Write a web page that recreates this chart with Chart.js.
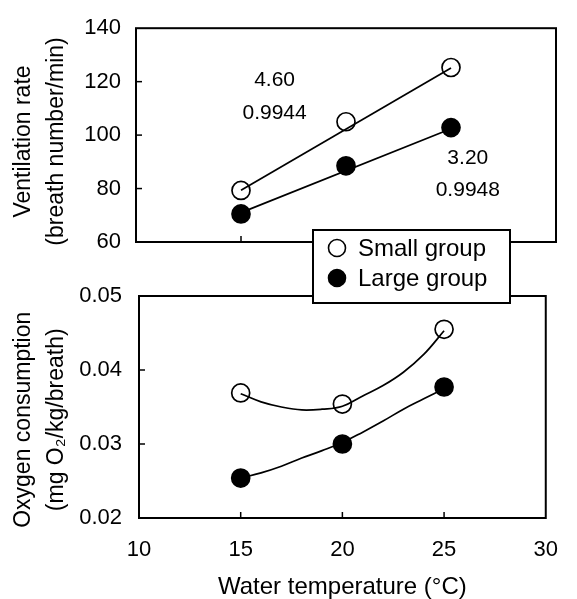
<!DOCTYPE html>
<html><head><meta charset="utf-8">
<script src="https://cdn.jsdelivr.net/npm/chart.js@4.4.1/dist/chart.umd.min.js"></script>
<style>
html,body{margin:0;padding:0;background:#fff;overflow:hidden;}
#wrap{position:relative;width:577px;height:599px;background:#fff;}
#c1wrap{position:absolute;left:0;top:0;width:577px;height:310px;z-index:2;}
#c2wrap{position:absolute;left:0;top:260px;width:577px;height:339px;z-index:1;}
canvas{display:block;}
</style></head><body>
<div id="wrap">
  <div id="c2wrap"><canvas id="c2" width="577" height="339"></canvas></div>
  <div id="c1wrap"><canvas id="c1" width="577" height="310"></canvas></div>
</div>
<script>
// ---- data ----
const temperatures = [15, 20, 25];
const ventilationSmall = [79.3, 105.0, 125.3];
const ventilationLarge = [70.5, 88.5, 102.8];
const ventFitTemps = [15, 25];
const ventFitSmall = [79.4, 125.1];
const ventFitLarge = [71.0, 102.4];
const oxygenSmall = [0.0369, 0.0354, 0.0455];
const oxygenLarge = [0.0254, 0.0300, 0.0377];
const curveTemps = [15, 16, 17, 18, 19, 20, 21, 22, 23, 24, 25];
const oxygenCurveSmall = [0.0368, 0.0357, 0.0350, 0.0346, 0.0347, 0.0351, 0.0365, 0.0379, 0.0397, 0.0421, 0.0453];
const oxygenCurveLarge = [0.0254, 0.0261, 0.0270, 0.0281, 0.0291, 0.0302, 0.0316, 0.0331, 0.0347, 0.0361, 0.0375];
const seriesNames = ['Small group', 'Large group'];
const tempTicks = [10, 15, 20, 25, 30];
const ventTicks = [60, 80, 100, 120, 140];
const oxygenTicks = [0.02, 0.03, 0.04, 0.05];
const fitLabels = ['4.60', '0.9944', '3.20', '0.9948'];
const fitLabelTemps = [16.6, 16.6, 25.8, 25.8];
const fitLabelValues = [120.5, 108.1, 91.4, 79.3];

// ---- helpers ----
const FONT = "'Liberation Sans', Arial, Helvetica, sans-serif";
Chart.defaults.font.family = FONT;
Chart.defaults.color = '#000';
const pts = (xs, ys) => xs.map((x, i) => ({x: x, y: ys[i]}));
const setTicks = arr => s => { s.ticks = arr.map(v => ({value: v})); };

function pointSet(label, xs, ys, filled) {
  return {label: label, data: pts(xs, ys), showLine: false,
    pointRadius: 9, pointHoverRadius: 9, pointBorderWidth: 1.7,
    pointBorderColor: '#000', pointBackgroundColor: filled ? '#000' : 'rgba(0,0,0,0)', order: 0};
}
function lineSet(xs, ys, tension) {
  return {label: '', data: pts(xs, ys), showLine: true, pointRadius: 0, pointHoverRadius: 0,
    borderColor: '#000', borderWidth: 1.7, tension: tension, fill: false, order: 1};
}

const framePlugin = {
  id: 'frame',
  afterDatasetsDraw(chart) {
    const {ctx, chartArea: a, scales} = chart;
    ctx.save();
    ctx.strokeStyle = '#000';
    ctx.lineWidth = 2;
    ctx.strokeRect(a.left, a.top, a.right - a.left, a.bottom - a.top);
    ctx.lineWidth = 1.5;
    const len = 6;
    scales.x.ticks.forEach(t => {
      if (t.value <= scales.x.min || t.value >= scales.x.max) return;
      const px = scales.x.getPixelForValue(t.value);
      ctx.beginPath(); ctx.moveTo(px, a.bottom); ctx.lineTo(px, a.bottom - len); ctx.stroke();
    });
    scales.y.ticks.forEach(t => {
      if (t.value <= scales.y.min || t.value >= scales.y.max) return;
      const py = scales.y.getPixelForValue(t.value);
      ctx.beginPath(); ctx.moveTo(a.left, py); ctx.lineTo(a.left + len, py); ctx.stroke();
    });
    ctx.restore();
  }
};

const fitTextPlugin = {
  id: 'fitText',
  afterDatasetsDraw(chart) {
    const {ctx, scales} = chart;
    ctx.save();
    ctx.font = '21px ' + FONT;
    ctx.fillStyle = '#000';
    ctx.textAlign = 'center';
    ctx.textBaseline = 'middle';
    fitLabels.forEach((t, i) => {
      ctx.fillText(t, scales.x.getPixelForValue(fitLabelTemps[i]), scales.y.getPixelForValue(fitLabelValues[i]));
    });
    ctx.restore();
  }
};

const legendPlugin = {
  id: 'boxLegend',
  afterDraw(chart) {
    const ctx = chart.ctx;
    const pointSets = chart.data.datasets.filter(d => d.label);
    const bx = 313, by = 230, bw = 197, bh = 73;
    ctx.save();
    ctx.fillStyle = '#fff';
    ctx.fillRect(bx, by, bw, bh);
    ctx.strokeStyle = '#000';
    ctx.lineWidth = 2;
    ctx.strokeRect(bx, by, bw, bh);
    ctx.font = '24px ' + FONT;
    ctx.textAlign = 'left';
    ctx.textBaseline = 'middle';
    pointSets.forEach((d, i) => {
      const cy = by + 18 + i * 30;
      ctx.beginPath();
      ctx.arc(bx + 24, cy, 8.5, 0, Math.PI * 2);
      ctx.fillStyle = d.pointBackgroundColor;
      ctx.fill();
      ctx.lineWidth = 1.6;
      ctx.strokeStyle = '#000';
      ctx.stroke();
      ctx.fillStyle = '#000';
      ctx.fillText(d.label, bx + 45, cy + 1);
    });
    ctx.restore();
  }
};

// ---- top panel: ventilation rate ----
new Chart(document.getElementById('c1'), {
  type: 'scatter',
  data: {datasets: [
    lineSet(ventFitTemps, ventFitSmall, 0),
    lineSet(ventFitTemps, ventFitLarge, 0),
    pointSet(seriesNames[0], temperatures, ventilationSmall, false),
    pointSet(seriesNames[1], temperatures, ventilationLarge, true)
  ]},
  options: {
    responsive: false, animation: false, events: [],
    layout: {padding: {left: 0, top: 25, right: 21, bottom: 0}},
    plugins: {legend: {display: false}, tooltip: {enabled: false}},
    scales: {
      x: {type: 'linear', min: tempTicks[0], max: tempTicks[tempTicks.length - 1],
        afterBuildTicks: setTicks(tempTicks),
        ticks: {display: false}, grid: {display: false, drawTicks: false}, border: {display: false},
        afterFit: s => { s.height = 68; }},
      y: {min: ventTicks[0], max: ventTicks[ventTicks.length - 1],
        afterBuildTicks: setTicks(ventTicks),
        ticks: {font: {size: 22}, padding: 15, color: '#000'},
        grid: {display: false, drawTicks: false}, border: {display: false},
        title: {display: true, text: ['Ventilation rate  ', '(breath number/min)  '],
          font: {size: 23, lineHeight: 1.4}, padding: {top: 8, bottom: 0}, color: '#000'},
        afterFit: s => { s.width = 136; }}
    }
  },
  plugins: [framePlugin, fitTextPlugin, legendPlugin]
});

// ---- bottom panel: oxygen consumption ----
new Chart(document.getElementById('c2'), {
  type: 'scatter',
  data: {datasets: [
    lineSet(curveTemps, oxygenCurveSmall, 0.4),
    lineSet(curveTemps, oxygenCurveLarge, 0.4),
    pointSet(seriesNames[0], temperatures, oxygenSmall, false),
    pointSet(seriesNames[1], temperatures, oxygenLarge, true)
  ]},
  options: {
    responsive: false, animation: false, events: [],
    layout: {padding: {left: 0, top: 36, right: 14, bottom: 0}},
    plugins: {legend: {display: false}, tooltip: {enabled: false}},
    scales: {
      x: {type: 'linear', min: tempTicks[0], max: tempTicks[tempTicks.length - 1],
        afterBuildTicks: setTicks(tempTicks),
        ticks: {font: {size: 22}, padding: 19, color: '#000', maxRotation: 0},
        grid: {display: false, drawTicks: false}, border: {display: false},
        title: {display: true, text: 'Water temperature (°C)', font: {size: 24, lineHeight: 1.0},
          padding: {top: 0, bottom: 0}, color: '#000'},
        afterFit: s => { s.height = 81; }},
      y: {min: oxygenTicks[0], max: oxygenTicks[oxygenTicks.length - 1],
        afterBuildTicks: setTicks(oxygenTicks),
        ticks: {font: {size: 22}, padding: 17, color: '#000', callback: v => v.toFixed(2)},
        grid: {display: false, drawTicks: false}, border: {display: false},
        title: {display: true, text: ['Oxygen consumption    ', '(mg O\u2082/kg/breath)    '],
          font: {size: 23, lineHeight: 1.4}, padding: {top: 8, bottom: 0}, color: '#000'},
        afterFit: s => { s.width = 139; }}
    }
  },
  plugins: [framePlugin]
});
</script>
</body></html>
